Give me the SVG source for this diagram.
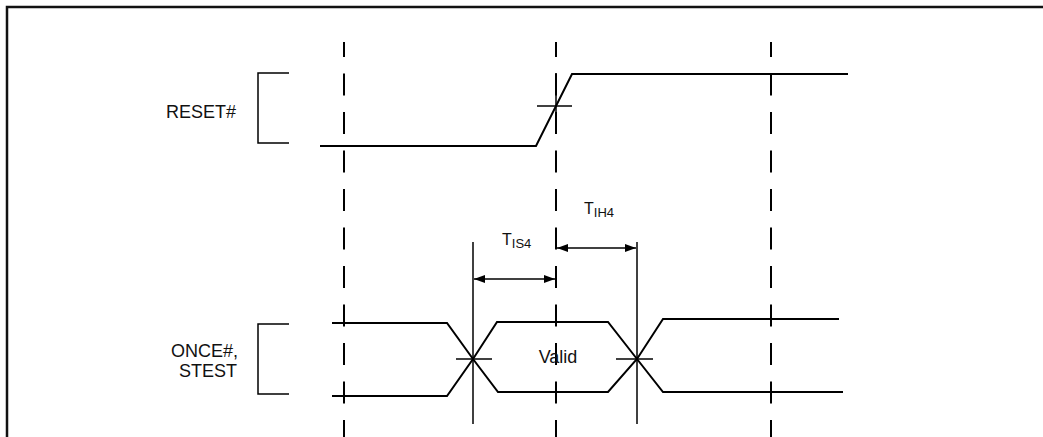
<svg xmlns="http://www.w3.org/2000/svg" width="1043" height="437" viewBox="0 0 1043 437">
  <style>
    .sig { fill: none; stroke: #000; stroke-width: 2; stroke-linejoin: miter; }
    .thin { fill: none; stroke: #000; stroke-width: 1.5; }
    .dash { fill: none; stroke: #000; stroke-width: 2; stroke-dasharray: 22 16.5; stroke-dashoffset: 7; }
    .frame { fill: none; stroke: #111; stroke-width: 2.5; }
    .lbl { font-family: "Liberation Sans", Arial, sans-serif; font-size: 18px; fill: #111; }
    .t { font-family: "Liberation Sans", Arial, sans-serif; font-size: 16px; fill: #111; }
    .sub { font-size: 13px; }
  </style>
  <defs>
    <marker id="ah" markerUnits="userSpaceOnUse" markerWidth="12" markerHeight="9" refX="11" refY="4" orient="auto-start-reverse">
      <path d="M0,0 L11,4 L0,8 z" fill="#000"/>
    </marker>
  </defs>
  <rect width="1043" height="437" fill="#fff"/>

  <g id="frame">
    <path class="frame" d="M7,437 V7 H1043"/>
  </g>

  <g id="time-grid">
    <line class="dash" x1="344" y1="42" x2="344" y2="437"/>
    <line class="dash" x1="556" y1="42" x2="556" y2="437"/>
    <line class="dash" x1="771" y1="42" x2="771" y2="437"/>
  </g>

  <g id="reset-signal">
    <text class="lbl" x="236" y="118" text-anchor="end">RESET#</text>
    <path class="thin" d="M289,73 H258 V143 H289"/>
    <path class="sig" d="M320,146 H536 L572,74 H848"/>
    <line class="thin" x1="537" y1="106" x2="572" y2="106"/>
    <line class="thin" x1="556" y1="73" x2="556" y2="123"/>
  </g>

  <g id="once-stest-signal">
    <text class="lbl" x="238" y="357" text-anchor="end">ONCE#,</text>
    <text class="lbl" x="237" y="377" text-anchor="end">STEST</text>
    <path class="thin" d="M289,324 H258 V394 H289"/>
    <path class="sig" d="M332,323 H447 L473,359 L498,392 H608 L637,359 L663,319 H839"/>
    <path class="sig" d="M332,396 H447 L473,359 L497,322 H608 L637,359 L663,392 H843"/>
    <line class="thin" x1="456" y1="359" x2="492" y2="359"/>
    <line class="thin" x1="616" y1="359" x2="653" y2="359"/>
    <text class="lbl" x="558" y="363" text-anchor="middle">Valid</text>
  </g>

  <g id="connectors">
    <line class="thin" x1="473" y1="242" x2="473" y2="424"/>
    <line class="thin" x1="637" y1="242" x2="637" y2="424"/>
    <line class="thin" x1="474" y1="279" x2="555" y2="279" marker-start="url(#ah)" marker-end="url(#ah)"/>
    <line class="thin" x1="557" y1="248" x2="636" y2="248" marker-start="url(#ah)" marker-end="url(#ah)"/>
  </g>

  <g id="timing-labels">
    <text class="t" x="502" y="245">T<tspan class="sub" dy="3">IS4</tspan></text>
    <text class="t" x="584" y="214">T<tspan class="sub" dy="3">IH4</tspan></text>
  </g>
</svg>
